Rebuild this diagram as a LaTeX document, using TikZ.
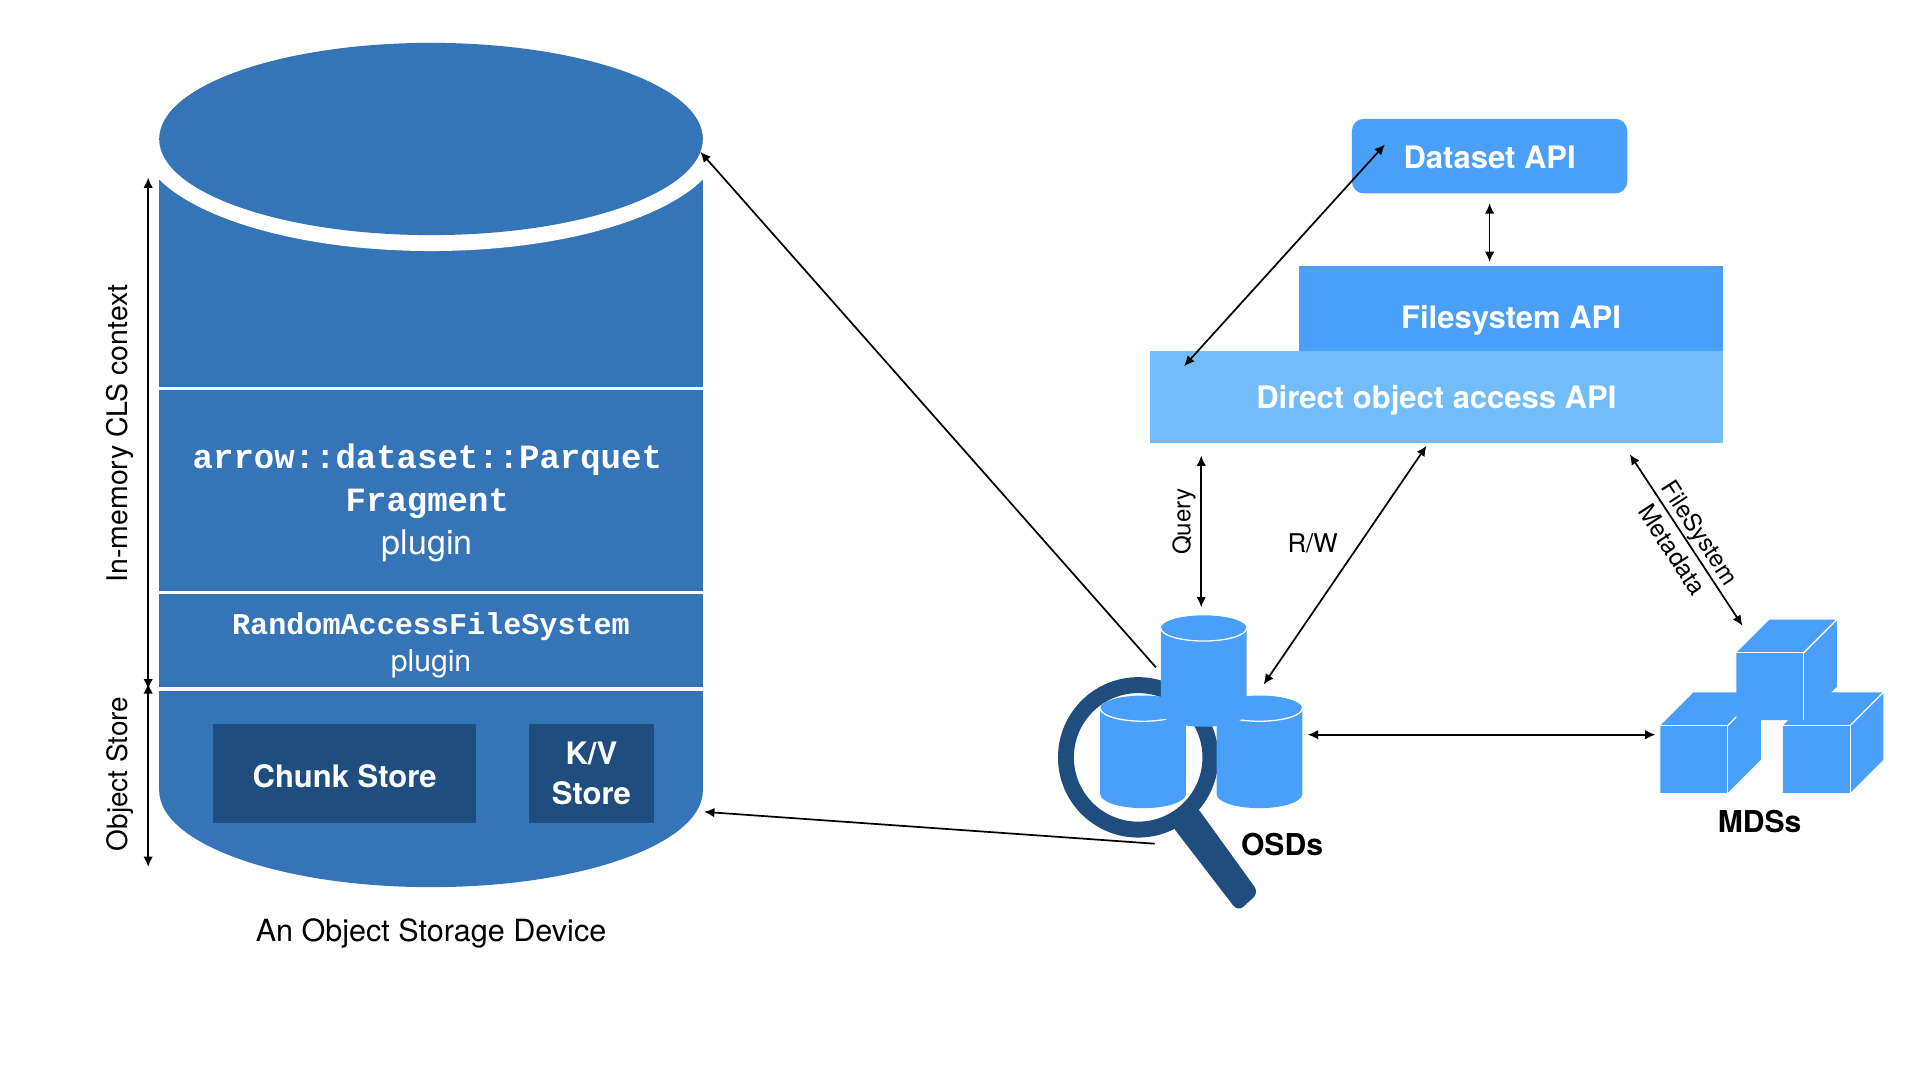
\documentclass[tikz,border=0pt]{standalone}
\usepackage{fontspec}
\setmainfont{TeX Gyre Heros}
\setmonofont{Liberation Mono}
\usetikzlibrary{arrows.meta}
\definecolor{cylblue}{RGB}{53,116,182}
\definecolor{darkblue}{RGB}{31,78,126}
\definecolor{apiblue}{RGB}{74,159,248}
\definecolor{directblue}{RGB}{114,188,250}
\newcommand{\sz}[1]{\fontsize{#1}{#1}\selectfont}
\tikzset{
	link/.style={line width=.4pt, {Latex[length=2.4pt, width=2.2pt]}-{Latex[length=2.4pt, width=2.2pt]}},
	zoomlink/.style={line width=.4pt, -{Latex[length=2.4pt, width=2.2pt]}},
	apibox/.style={fill=#1, text=white, inner sep=0pt, font=\bfseries\sz{7.2}},
	storebox/.style={fill=darkblue, text=white, inner sep=0pt, minimum height=.81cm, align=center, font=\bfseries\fontsize{7.2}{9.2}\selectfont},
	lbl/.style={inner sep=0pt, font=\sz{7.1}},
	sidelbl/.style={inner sep=0pt, font=\sz{6}},
	bold/.style={inner sep=0pt, font=\bfseries\sz{7}},
}
\begin{document}
\begin{tikzpicture}
	\useasboundingbox (0, 0) rectangle (15.68, 8.82);
	% the big cylinder
	\fill[cylblue](1.30, 7.685)--(5.74, 7.685)--(5.74, 2.365) arc[start angle=0, end angle=-180, x radius=2.22, y radius=.79]--cycle;
	\fill[white](3.52, 7.685) ellipse[x radius=2.38, y radius=.915];
	\fill[cylblue](3.52, 7.685) ellipse[x radius=2.22, y radius=.785];
	\draw[white, line width=.6pt](1.30, 5.645)--(5.74, 5.645);
	\draw[white, line width=.6pt](1.30, 3.98)--(5.74, 3.98);
	\draw[white, line width=.9pt](1.30, 3.19)--(5.74, 3.19);
	\node[text=white, inner sep=0pt, align=center, font=\fontsize{7.9}{10}\selectfont](parquet) at (3.49, 4.71){\ttfamily\bfseries arrow::dataset::Parquet\\\ttfamily\bfseries Fragment\\plugin};
	\node[text=white, inner sep=0pt, align=center, font=\fontsize{7}{8.5}\selectfont](randomfs) at (3.52, 3.55){\ttfamily\bfseries RandomAccessFileSystem\\plugin};
	\node[storebox, minimum width=2.15cm, text height=.23cm](chunk) at (2.815, 2.505){Chunk Store};
	\node[storebox, minimum width=1.02cm](kvstore) at (4.83, 2.505){K/V\\Store};
	\node[lbl](caption) at (3.52, 1.20){An Object Storage Device};
	% side arrows
	\coordinate(ctxtop) at (1.21, 7.37);
	\coordinate(ctxbot) at (1.21, 3.19);
	\coordinate(objtop) at (1.21, 3.24);
	\coordinate(objbot) at (1.21, 1.74);
	\draw[link](ctxtop)--(ctxbot);
	\draw[link](objtop)--(objbot);
	\node[inner sep=0pt, font=\sz{6.6}, rotate=90](ctxlabel) at (.98, 5.28){In-memory CLS context};
	\node[inner sep=0pt, font=\sz{6.5}, rotate=90](objlabel) at (.98, 2.50){Object Store};
	% the APIs
	\node[apibox=apiblue, rounded corners=.1cm, minimum width=2.25cm, minimum height=.61cm, text height=.2cm](dataset) at (12.165, 7.545){Dataset API};
	\node[apibox=apiblue, minimum width=3.46cm, minimum height=.80cm, text height=.28cm, text depth=.05cm](filesystem) at (12.34, 6.25){Filesystem API};
	\node[apibox=directblue, minimum width=4.68cm, minimum height=.75cm, text height=.24cm, text depth=.05cm](direct) at (11.73, 5.575){Direct object access API};
	% magnifier, behind the OSDs
	\fill[darkblue, rounded corners=.06cm](9.56, 2.09)--(9.76, 2.25)--(10.28, 1.53)--(10.11, 1.375)--cycle;
	\draw[darkblue, line width=.13cm](9.295, 2.635) circle[radius=.59];
	% OSDs
	\foreach \cx/\cy/\by in {9.335/3.035/2.335, 10.285/3.035/2.335, 9.83/3.69/3.0}{
		\fill[apiblue](\cx-.35, \cy) arc[start angle=180, end angle=0, x radius=.35, y radius=.105]--(\cx+.35, \by) arc[start angle=0, end angle=-180, x radius=.35, y radius=.115]--cycle;
		\draw[white, line width=.3pt](\cx-.35, \cy) arc[start angle=180, end angle=360, x radius=.35, y radius=.105];
	}
	\node[bold](osds) at (10.47, 1.92){OSDs};
	% MDSs
	\foreach \cx/\cy in {13.56/2.345, 14.56/2.345, 14.18/2.94}{
		\fill[apiblue](\cx, \cy)--(\cx+.55, \cy)--(\cx+.82, \cy+.27)--(\cx+.82, \cy+.82)--(\cx+.27, \cy+.82)--(\cx, \cy+.55)--cycle;
		\draw[white, line width=.3pt](\cx, \cy+.55)--(\cx+.55, \cy+.55)--(\cx+.55, \cy);
		\draw[white, line width=.3pt](\cx+.55, \cy+.55)--(\cx+.82, \cy+.82);
	}
	\node[bold](mdss) at (14.37, 2.11){MDSs};
	% connectors
	\coordinate(dsinner) at (11.31, 7.64);
	\coordinate(directinner) at (9.67, 5.83);
	\coordinate(dsbelow) at (12.165, 7.16);
	\coordinate(fsabove) at (12.165, 6.68);
	\coordinate(queryup) at (9.81, 5.10);
	\coordinate(querydown) at (9.81, 3.86);
	\coordinate(rwup) at (11.65, 5.18);
	\coordinate(rwdown) at (10.32, 3.23);
	\coordinate(metaup) at (13.31, 5.11);
	\coordinate(metadown) at (14.23, 3.71);
	\coordinate(osdside) at (10.68, 2.82);
	\coordinate(mdsside) at (13.52, 2.82);
	\coordinate(lenstop) at (9.44, 3.37);
	\coordinate(cyltop) at (5.72, 7.58);
	\coordinate(lensbot) at (9.43, 1.93);
	\coordinate(cylbot) at (5.75, 2.19);
	\draw[link](dsinner)--(directinner);
	\draw[link](dsbelow)--(fsabove);
	\draw[link](queryup)--(querydown);
	\draw[link](rwup)--(rwdown);
	\draw[link](metaup)--(metadown);
	\draw[link](osdside)--(mdsside);
	\draw[zoomlink](lenstop)--(cyltop);
	\draw[zoomlink](lensbot)--(cylbot);
	\node[inner sep=0pt, font=\sz{5.6}, rotate=90](query) at (9.67, 4.56){Query};
	\node[sidelbl](rw) at (10.72, 4.38){R/W};
	\node[inner sep=0pt, font=\sz{5.6}, rotate=-57](fslabel) at (13.87, 4.46){FileSystem};
	\node[inner sep=0pt, font=\sz{5.7}, rotate=-57](metalabel) at (13.66, 4.33){Metadata};
\end{tikzpicture}
\end{document}
